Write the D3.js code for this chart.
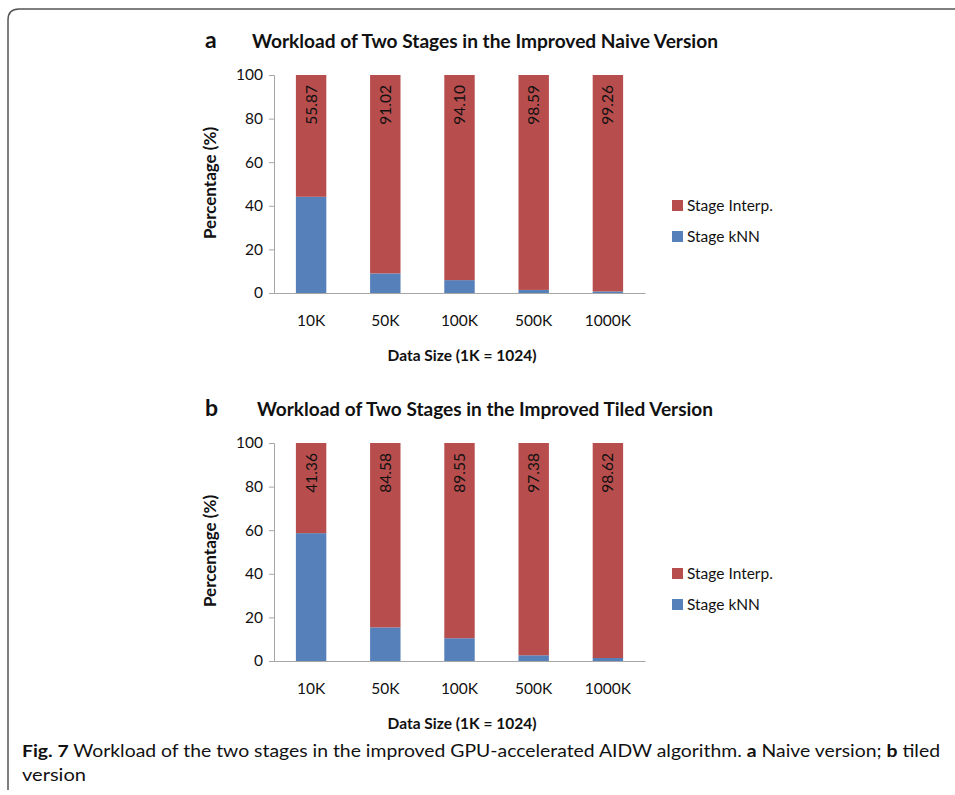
<!DOCTYPE html>
<html>
<head>
<meta charset="utf-8">
<script src="https://cdn.jsdelivr.net/npm/d3@7"></script>
<style>
  body { margin: 0; background: #fff; }
  text { font-family: Lato, "Open Sans", sans-serif; fill: #111; }
</style>
</head>
<body>
<div id="chart"></div>
<script>
// data
const categories = ["10K", "50K", "100K", "500K", "1000K"];
const naiveKnn = [44.13, 8.98, 5.90, 1.41, 0.74];
const naiveInterp = [55.87, 91.02, 94.10, 98.59, 99.26];
const tiledKnn = [58.64, 15.42, 10.45, 2.62, 1.38];
const tiledInterp = [41.36, 84.58, 89.55, 97.38, 98.62];
const yTicks = [0, 20, 40, 60, 80, 100];
const seriesNames = ["Stage Interp.", "Stage kNN"];

const colInterp = "#b84d4d";
const colKnn = "#5580b9";
const axisCol = "#a6a6a6";

const width = 955, height = 795;

const svg = d3.select("#chart")
  .append("svg")
  .attr("width", width)
  .attr("height", height);

// frame
svg.append("path")
  .attr("d", "M8,790 L8,20 Q8,9 19,9 L955,9")
  .attr("fill", "none")
  .attr("stroke", "#555")
  .attr("stroke-width", 1.5);

function drawPanel(letter, title, titleLen, knn, interp, top) {
  const g = svg.append("g").attr("transform", `translate(0,${top})`);
  const plotTop = 0, plotBottom = 218;
  const left = 274, right = 645;

  const x = d3.scaleBand().domain(categories).range([left, right]).padding(0);
  const y = d3.scaleLinear().domain([0, 100]).range([plotBottom, plotTop]);
  const barW = x.bandwidth() * 0.41;

  g.append("text")
    .attr("x", 205).attr("y", -27)
    .attr("font-family", "Liberation Sans, Arial, sans-serif")
    .attr("font-weight", "bold")
    .attr("font-size", 23)
    .text(letter);

  g.append("text")
    .attr("x", 485).attr("y", -27)
    .attr("text-anchor", "middle")
    .attr("font-weight", "bold")
    .attr("font-size", 19)
    .attr("textLength", titleLen)
    .attr("lengthAdjust", "spacingAndGlyphs")
    .text(title);

  // y axis
  const yAxis = d3.axisLeft(y).tickValues(yTicks).tickSize(5).tickPadding(6);
  const ya = g.append("g").attr("transform", `translate(${left},0)`).call(yAxis);
  ya.select(".domain").attr("stroke", axisCol);
  ya.selectAll(".tick line").attr("stroke", axisCol);
  ya.selectAll(".tick text").attr("font-size", 15.5).attr("fill", "#111")
    .attr("font-family", "Lato, sans-serif");

  // bars
  const rows = categories.map((c, i) => ({ c, knn: knn[i], interp: interp[i] }));
  g.selectAll(".knn").data(rows).enter().append("rect")
    .attr("x", d => x(d.c) + (x.bandwidth() - barW) / 2)
    .attr("y", d => y(d.knn))
    .attr("width", barW)
    .attr("height", d => y(0) - y(d.knn))
    .attr("fill", colKnn);
  g.selectAll(".interp").data(rows).enter().append("rect")
    .attr("x", d => x(d.c) + (x.bandwidth() - barW) / 2)
    .attr("y", d => y(d.knn + d.interp))
    .attr("width", barW)
    .attr("height", d => y(d.knn) - y(d.knn + d.interp))
    .attr("fill", colInterp);

  g.selectAll(".vlab").data(rows).enter().append("text")
    .attr("transform", d => `translate(${x(d.c) + x.bandwidth() / 2},${y(100) + 10}) rotate(-90)`)
    .attr("dy", "0.35em")
    .attr("text-anchor", "end")
    .attr("font-size", 15.5)
    .text(d => d.interp.toFixed(2));

  // x axis
  const xAxis = d3.axisBottom(x).tickSize(0).tickPadding(22);
  const xa = g.append("g").attr("transform", `translate(0,${plotBottom})`).call(xAxis);
  xa.select(".domain").attr("stroke", axisCol);
  xa.selectAll(".tick text").attr("font-size", 15.5).attr("fill", "#111")
    .attr("font-family", "Lato, sans-serif");

  g.append("text")
    .attr("x", 462).attr("y", plotBottom + 68)
    .attr("text-anchor", "middle")
    .attr("font-weight", "bold")
    .attr("font-size", 15.5)
    .text("Data Size (1K = 1024)");

  g.append("text")
    .attr("transform", `translate(216,${(plotTop + plotBottom) / 2 - 1}) rotate(-90)`)
    .attr("text-anchor", "middle")
    .attr("font-weight", "bold")
    .attr("font-size", 17)
    .text("Percentage (%)");

  // legend
  const leg = g.append("g").attr("transform", "translate(672,125)");
  [colInterp, colKnn].forEach((col, i) => {
    leg.append("rect").attr("x", 0).attr("y", i * 31).attr("width", 11).attr("height", 11).attr("fill", col);
    leg.append("text").attr("x", 15).attr("y", i * 31 + 5.5).attr("dy", "0.35em")
      .attr("font-size", 15.5).text(seriesNames[i]);
  });
}

drawPanel("a", "Workload of Two Stages in the Improved Naive Version", 466, naiveKnn, naiveInterp, 75);
drawPanel("b", "Workload of Two Stages in the Improved Tiled Version", 456, tiledKnn, tiledInterp, 443);

// caption
const cap = svg.append("text")
  .attr("x", 22).attr("y", 757)
  .attr("font-family", "Open Sans, sans-serif")
  .attr("font-size", 17)
  .attr("textLength", 918)
  .attr("lengthAdjust", "spacingAndGlyphs");
cap.append("tspan").attr("font-weight", "bold").text("Fig. 7");
cap.append("tspan").text("  Workload of the two stages in the improved GPU-accelerated AIDW algorithm. ");
cap.append("tspan").attr("font-weight", "bold").text("a");
cap.append("tspan").text(" Naive version; ");
cap.append("tspan").attr("font-weight", "bold").text("b");
cap.append("tspan").text(" tiled");

svg.append("text")
  .attr("x", 22).attr("y", 781)
  .attr("font-family", "Open Sans, sans-serif")
  .attr("font-size", 17)
  .attr("textLength", 64)
  .attr("lengthAdjust", "spacingAndGlyphs")
  .text("version");
</script>
</body>
</html>
